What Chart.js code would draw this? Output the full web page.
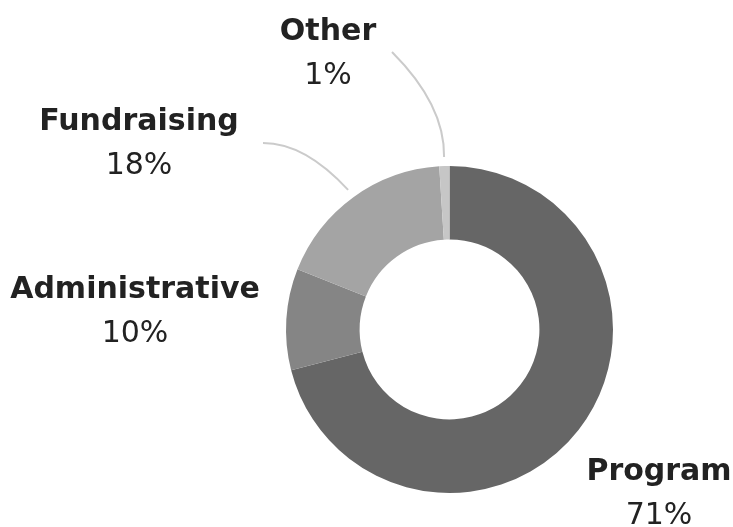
<!DOCTYPE html>
<html>
<head>
<meta charset="utf-8">
<script src="https://cdn.jsdelivr.net/npm/chart.js@4.4.0/dist/chart.umd.min.js"></script>
<style>
  html, body { margin: 0; padding: 0; background: #ffffff; }
  #wrap { width: 733px; height: 527px; position: relative; }
</style>
</head>
<body>
<div id="wrap"><canvas id="c"></canvas></div>
<script>
const categories = ["Program", "Administrative", "Fundraising", "Other"];
const shares = [71, 10, 18, 1];
const percentLabels = ["71%", "10%", "18%", "1%"];
const sliceColors = ["#666666", "#858585", "#a4a4a4", "#c6c6c6"];

// label placement relative to doughnut centre (title baseline) – styling only
const labelPlacement = [
  { dx: 209.5, dy: 150.5 },
  { dx: -314.5, dy: -31.5 },
  { dx: -310.5, dy: -199.5 },
  { dx: -121.5, dy: -289.5 }
];
// connector curves: end point and control point relative to centre
const connectors = [
  null,
  null,
  { ex: -186.5, ey: -186.5, cx: -144.5, cy: -186.5 },
  { ex: -57.5, ey: -277.5, cx: -4.5, cy: -224.5 }
];

const labelPlugin = {
  id: 'outerLabels',
  afterDatasetsDraw(chart) {
    const ctx = chart.ctx;
    const meta = chart.getDatasetMeta(0);
    meta.data.forEach((arc, i) => {
      const cx = arc.x, cy = arc.y;
      const mid = (arc.startAngle + arc.endAngle) / 2;
      const conn = connectors[i];
      if (conn) {
        const r0 = arc.outerRadius + 9;
        const sx = cx + Math.cos(mid) * r0;
        const sy = cy + Math.sin(mid) * r0;
        ctx.save();
        ctx.strokeStyle = '#cbcbcb';
        ctx.lineWidth = 2;
        ctx.beginPath();
        ctx.moveTo(sx, sy);
        ctx.quadraticCurveTo(cx + conn.cx, cy + conn.cy, cx + conn.ex, cy + conn.ey);
        ctx.stroke();
        ctx.restore();
      }
      const p = labelPlacement[i];
      const lx = cx + p.dx, ly = cy + p.dy;
      ctx.save();
      ctx.fillStyle = '#222222';
      ctx.textAlign = 'center';
      ctx.textBaseline = 'alphabetic';
      ctx.font = 'bold 30px "DejaVu Sans"';
      ctx.fillText(categories[i], lx, ly);
      ctx.font = '30px "DejaVu Sans"';
      ctx.fillText(percentLabels[i], lx, ly + 44);
      ctx.restore();
    });
  }
};

new Chart(document.getElementById('c'), {
  type: 'doughnut',
  data: {
    labels: categories,
    datasets: [{
      data: shares,
      backgroundColor: sliceColors,
      borderWidth: 0,
      hoverOffset: 0
    }]
  },
  options: {
    responsive: true,
    maintainAspectRatio: false,
    animation: false,
    cutout: '55%',
    layout: { padding: { left: 286, right: 120, top: 166, bottom: 34 } },
    plugins: {
      legend: { display: false },
      tooltip: { enabled: false }
    }
  },
  plugins: [labelPlugin]
});
</script>
</body>
</html>
